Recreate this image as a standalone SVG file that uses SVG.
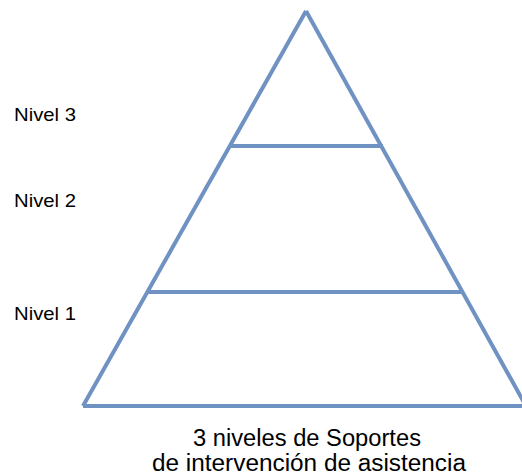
<svg xmlns="http://www.w3.org/2000/svg" width="522" height="476" viewBox="0 0 522 476">
<style>
.ln{stroke:#6f92c2;stroke-width:4;fill:none;stroke-linecap:butt;stroke-linejoin:miter}
.lbl{font-family:"Liberation Sans",Arial,sans-serif;font-size:19px;fill:#000}
.cap{font-family:"Liberation Sans",Arial,sans-serif;font-size:23px;fill:#000;text-anchor:middle}
</style>
<rect width="522" height="476" fill="#fff"/>
<g id="connectors">
<line class="ln" x1="306" y1="11" x2="83" y2="406"/>
<line class="ln" x1="306" y1="11" x2="526" y2="406"/>
<line class="ln" x1="83" y1="406" x2="522" y2="406"/>
<line class="ln" x1="229" y1="146" x2="383" y2="146"/>
<line class="ln" x1="146" y1="292" x2="462" y2="292"/>
</g>
<g id="nivel3"><text class="lbl" x="14" y="121" textLength="62" lengthAdjust="spacingAndGlyphs">Nivel 3</text></g>
<g id="nivel2"><text class="lbl" x="14" y="207" textLength="62" lengthAdjust="spacingAndGlyphs">Nivel 2</text></g>
<g id="nivel1"><text class="lbl" x="14" y="320" textLength="62" lengthAdjust="spacingAndGlyphs">Nivel 1</text></g>
<g id="caption">
<text class="cap" x="307" y="446" textLength="228" lengthAdjust="spacingAndGlyphs">3 niveles de Soportes</text>
<text class="cap" x="309" y="471" textLength="314" lengthAdjust="spacingAndGlyphs">de intervención de asistencia</text>
</g>
</svg>
